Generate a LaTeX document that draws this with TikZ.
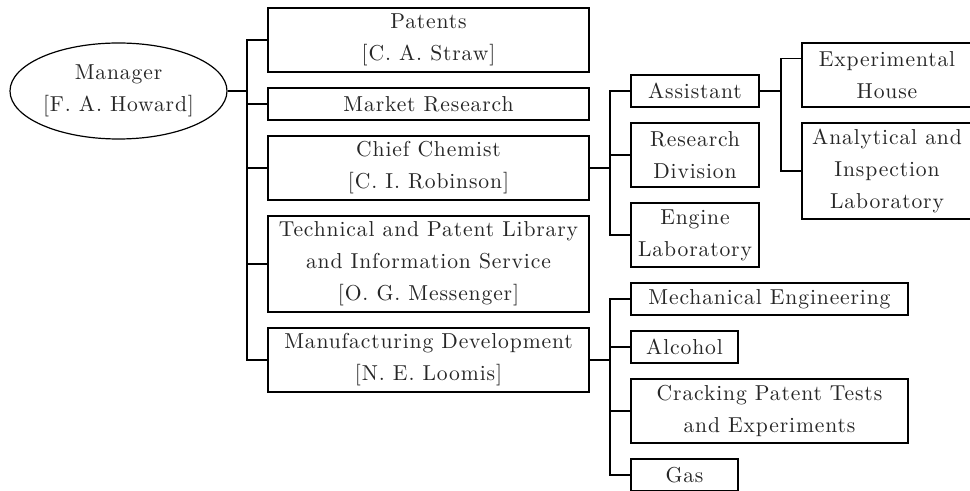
\documentclass[tikz,border=0pt]{standalone}
\usepackage{fontspec}
\newfontfamily\lblfont{lmroman10-regular}[Extension=.otf,LetterSpace=4]
\usetikzlibrary{shapes.geometric,calc}
\begin{document}
\begin{tikzpicture}[x=0.5pt,y=-0.5pt,
  lbl/.style={font=\lblfont\fontsize{10.8}{16}\selectfont, align=center, inner sep=0pt, text=black!85},
  box/.style={lbl, draw, line width=0.6pt, rectangle},
  link/.style={line width=0.6pt}]
\useasboundingbox (0,0) rectangle (970,491);
% root
\node[lbl, draw, ellipse, line width=0.6pt, minimum width=108.5pt, minimum height=48pt] (mgr) at (118.5,91) {Manager\\{[}F. A. Howard{]}};
% level 1
\node[box, minimum width=160.5pt, minimum height=32pt] (pat) at (428.5,40) {Patents\\{[}C. A. Straw{]}};
\node[box, minimum width=160.5pt, minimum height=16pt] (mkt) at (428.5,104) {Market Research};
\node[box, minimum width=160.5pt, minimum height=32pt] (chem) at (428.5,168) {Chief Chemist\\{[}C. I. Robinson{]}};
\node[box, minimum width=160.5pt, minimum height=48pt] (tech) at (428.5,264) {Technical and Patent Library\\and Information Service\\{[}O. G. Messenger{]}};
\node[box, minimum width=160.5pt, minimum height=32pt] (mfg) at (428.5,360) {Manufacturing Development\\{[}N. E. Loomis{]}};
% chief chemist children
\node[box, minimum width=64pt, minimum height=16pt] (asst) at (695,91) {Assistant};
\node[box, minimum width=64pt, minimum height=32pt] (rdiv) at (695,155) {Research\\Division};
\node[box, minimum width=64pt, minimum height=32pt] (eng) at (695,235) {Engine\\Laboratory};
% assistant children
\node[box, minimum width=85pt, minimum height=32pt] (exp) at (887,75) {Experimental\\House};
\node[box, minimum width=85pt, minimum height=48pt] (anal) at (887,171) {Analytical and\\Inspection\\Laboratory};
% manufacturing children
\node[box, minimum width=138.5pt, minimum height=16pt] (mech) at (769.5,299) {Mechanical Engineering};
\node[box, minimum width=53.5pt, minimum height=16pt] (alc) at (684.5,347) {Alcohol};
\node[box, minimum width=138.5pt, minimum height=32pt] (crack) at (769.5,411) {Cracking Patent Tests\\and Experiments};
\node[box, minimum width=53.5pt, minimum height=16pt] (gas) at (684.5,475) {Gas};
% junctions
\coordinate (j1) at (247,91);
\coordinate (j2) at (610,168);
\coordinate (j3) at (781,91);
\coordinate (j4) at (610,360);
\coordinate (expin) at ($(exp.north west)!0.25!(exp.south west)$);
% connectors
\draw[link] (mgr.east) -- (j1);
\foreach \t in {pat,mkt,chem,tech,mfg} \draw[link] (j1) |- (\t.west);
\draw[link] (chem.east) -- (j2);
\foreach \t in {asst,rdiv,eng} \draw[link] (j2) |- (\t.west);
\draw[link] (asst.east) -- (j3);
\draw[link] (j3) |- (expin);
\draw[link] (j3) |- (anal.west);
\draw[link] (mfg.east) -- (j4);
\foreach \t in {mech,alc,crack,gas} \draw[link] (j4) |- (\t.west);
\end{tikzpicture}
\end{document}
